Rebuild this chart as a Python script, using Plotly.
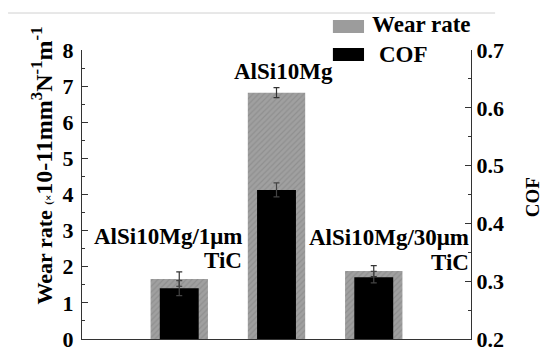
import plotly.graph_objects as go

categories = [1, 2, 3]
cat_labels = ["AlSi10Mg/1μm<br>TiC", "AlSi10Mg", "AlSi10Mg/30μm<br>TiC"]
wear_rate = [1.66, 6.82, 1.88]
wear_err = [0.20, 0.14, 0.15]
cof = [0.288, 0.458, 0.307]
cof_err = [0.013, 0.012, 0.010]

FAM = "Liberation Serif, Times New Roman, serif"
FONT = dict(family=FAM, color="black")

fig = go.Figure()
fig.add_trace(go.Bar(
    x=categories, y=wear_rate, width=0.59, name="Wear rate",
    marker=dict(color="#9c9c9c", line=dict(width=0),
                pattern=dict(shape="/", fgcolor="#7e7e7e", bgcolor="#a0a0a0", size=4, solidity=0.3)),
    error_y=dict(type="data", array=wear_err, color="#333333", thickness=1.2, width=3),
    showlegend=False,
))
fig.add_trace(go.Bar(
    x=categories, y=cof, width=0.40, name="COF", yaxis="y2",
    marker=dict(color="black", line=dict(width=0)),
    error_y=dict(type="data", array=cof_err, color="#444444", thickness=1.2, width=3),
    showlegend=False,
))

def b(t):
    return "<b>" + t + "</b>"

# page has an 8px default body margin, so the figure is 8px smaller
fig.update_layout(
    width=542, height=352,
    margin=dict(l=74, r=79, t=42, b=21, autoexpand=False),
    paper_bgcolor="white", plot_bgcolor="white",
    barmode="overlay",
    font=dict(FONT, size=18),
    xaxis=dict(range=[0, 4], showline=True, linecolor="#333", linewidth=1, automargin=False,
               showticklabels=False, ticks="", showgrid=False, zeroline=False),
    yaxis=dict(range=[0, 8], dtick=1, ticks="inside", ticklen=6, tickcolor="#333", automargin=False,
               showline=True, linecolor="#333", linewidth=1, showgrid=False, zeroline=False,
               minor=dict(dtick=0.5, ticks="inside", ticklen=3, tickcolor="#333"),
               tickfont=dict(FONT, size=22, weight="bold"), ticklabelstandoff=3),
    yaxis2=dict(range=[0.2, 0.7], dtick=0.1, overlaying="y", side="right", automargin=False,
                ticks="inside", ticklen=6, tickcolor="#333",
                showline=True, linecolor="#333", linewidth=1, showgrid=False, zeroline=False,
                minor=dict(dtick=0.05, ticks="inside", ticklen=3, tickcolor="#333"),
                tickformat=".1f", tickfont=dict(FONT, size=22, weight="bold")),
)

# axis titles as rotated annotations (paper coords)
left_title = ("Wear rate <span style='font-size:11px'>(×</span>"
              "<span style='font-size:24px'>10-11mm<sup>3</sup>N<sup>-1</sup>m<sup>-1</sup></span>")
fig.add_annotation(x=-0.103, y=0.60, xref="paper", yref="paper", text=b(left_title), showarrow=False,
                   textangle=-90, xanchor="center", yanchor="middle", font=dict(FONT, size=22))
fig.add_annotation(x=1.159, y=0.49, xref="paper", yref="paper", text=b("COF"), showarrow=False,
                   textangle=-90, xanchor="center", yanchor="middle", font=dict(FONT, size=19))

# category labels (one annotation per line)
label_pos = [(1.67, 2.85, "right"), (2.07, 7.4, "center"), (4.0, 2.82, "right")]
line_gap = 0.69
for (lx, ly, anc), txt in zip(label_pos, cat_labels):
    for k, line in enumerate(txt.split("<br>")):
        fig.add_annotation(x=lx, y=ly - k * line_gap, xref="x", yref="y", text=b(line), showarrow=False,
                           xanchor=anc, yanchor="middle", font=dict(FONT, size=23))

# legend (manual)
fig.add_shape(type="rect", xref="paper", yref="paper", x0=0.645, x1=0.725, y0=1.059, y1=1.104,
              fillcolor="#9c9c9c", line=dict(width=0))
fig.add_shape(type="rect", xref="paper", yref="paper", x0=0.645, x1=0.725, y0=0.962, y1=1.007,
              fillcolor="black", line=dict(width=0))
fig.add_annotation(x=0.740, y=1.087, xref="paper", yref="paper", text=b("Wear rate"), showarrow=False,
                   xanchor="left", yanchor="middle", font=dict(FONT, size=23))
fig.add_annotation(x=0.758, y=0.983, xref="paper", yref="paper", text=b("COF"), showarrow=False,
                   xanchor="left", yanchor="middle", font=dict(FONT, size=23))

# faint crop line at top
fig.add_shape(type="line", xref="paper", yref="paper", x0=-0.19, x1=1.062, y0=1.128, y1=1.128,
              line=dict(color="#d0d0d0", width=1))

fig.write_html("out.html")
